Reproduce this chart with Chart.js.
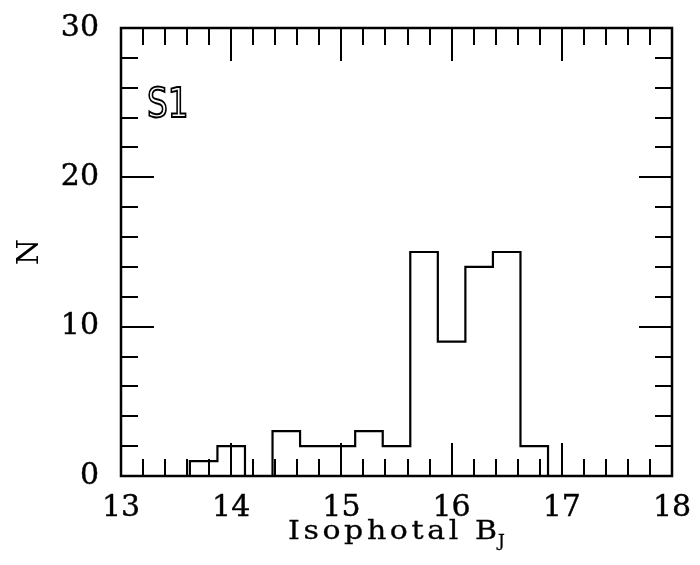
<!DOCTYPE html>
<html>
<head>
<meta charset="utf-8">
<script src="https://cdn.jsdelivr.net/npm/chart.js@4/dist/chart.umd.min.js"></script>
<style>
  html, body { margin: 0; padding: 0; background: #fff; }
  #wrap { width: 700px; height: 565px; position: relative; }
</style>
</head>
<body>
<div id="wrap"><canvas id="c" width="700" height="565"></canvas></div>
<script>
// Histogram bin left edges (last value = right edge of last bin), in Isophotal B_J
const binEdges = [13.625, 13.875, 14.125, 14.375, 14.625, 14.875, 15.125, 15.375, 15.625, 15.875, 16.125, 16.375, 16.625, 16.875];
// Counts per bin
const counts = [1, 2, 0, 3, 2, 2, 3, 2, 15, 9, 14, 15, 2];
// Axis ranges / tick labels
const xTickLabels = [13, 14, 15, 16, 17, 18];
const yTickLabels = [0, 10, 20, 30];
const panelLabel = "S1";
const xTitleMain = "Isophotal B";
const xTitleSub = "J";
const yTitle = "N";

const points = [{x: binEdges[0], y: 0}];
for (let i = 0; i < counts.length; i++) points.push({x: binEdges[i], y: counts[i]});
points.push({x: binEdges[binEdges.length - 1], y: 0});

const SERIF = "'DejaVu Serif', 'Liberation Serif', serif";

const framePlugin = {
  id: 'frame',
  afterDraw(chart) {
    const {ctx, chartArea: a, scales: {x, y}} = chart;
    ctx.save();
    ctx.strokeStyle = '#000';
    ctx.lineWidth = 2.5;
    ctx.strokeRect(a.left, a.top, a.right - a.left, a.bottom - a.top);
    ctx.lineWidth = 2;
    ctx.beginPath();
    // x ticks (inward, top and bottom)
    for (let v = x.min; v <= x.max + 1e-9; v += 0.2) {
      const px = Math.round(x.getPixelForValue(v));
      const major = Math.abs(v - Math.round(v)) < 1e-6;
      const len = major ? 33 : 17;
      ctx.moveTo(px, a.bottom); ctx.lineTo(px, a.bottom - len);
      ctx.moveTo(px, a.top); ctx.lineTo(px, a.top + len);
    }
    // y ticks (inward, left and right)
    for (let v = y.min; v <= y.max + 1e-9; v += 2) {
      const py = Math.round(y.getPixelForValue(v));
      const major = Math.abs(v / 10 - Math.round(v / 10)) < 1e-6;
      const len = major ? 33 : 17;
      ctx.moveTo(a.left, py); ctx.lineTo(a.left + len, py);
      ctx.moveTo(a.right, py); ctx.lineTo(a.right - len, py);
    }
    ctx.stroke();

    // panel label (outlined)
    ctx.save();
    ctx.translate(a.left + 26, a.top + 89);
    ctx.scale(0.8, 1);
    ctx.font = "41px 'DejaVu Sans', sans-serif";
    ctx.textBaseline = 'alphabetic';
    ctx.textAlign = 'left';
    ctx.lineWidth = 2;
    ctx.strokeText(panelLabel, 0, 0);
    ctx.restore();

    // x title with subscript
    ctx.fillStyle = '#000';
    ctx.strokeStyle = '#000';
    ctx.textAlign = 'left';
    ctx.textBaseline = 'alphabetic';
    ctx.save();
    ctx.translate(288, 539);
    ctx.scale(1, 0.85);
    ctx.font = "30px " + SERIF;
    ctx.lineWidth = 0.35;
    const chars = Array.from(xTitleMain);
    const widths = chars.map(ch => ctx.measureText(ch).width);
    const w0 = widths.reduce((s, w) => s + w, 0);
    const targetW = 209;
    const ls = Math.max(0, (targetW - w0) / (chars.length - 1));
    let cx = 0;
    chars.forEach((ch, i) => { ctx.fillText(ch, cx, 0); ctx.strokeText(ch, cx, 0); cx += widths[i] + ls; });
    ctx.restore();
    ctx.font = "17px " + SERIF;
    ctx.lineWidth = 0.3;
    ctx.fillText(xTitleSub, 288 + targetW + 1, 546);
    ctx.strokeText(xTitleSub, 288 + targetW + 1, 546);
    ctx.restore();
  }
};

new Chart(document.getElementById('c'), {
  type: 'line',
  data: {
    datasets: [{
      data: points,
      stepped: 'before',
      borderColor: '#000',
      borderWidth: 2.2,
      pointRadius: 0,
      fill: false,
      clip: false
    }]
  },
  options: {
    responsive: false,
    animation: false,
    devicePixelRatio: 1,
    layout: { padding: { left: 12, right: 28, top: 28, bottom: 0 } },
    plugins: { legend: { display: false }, tooltip: { enabled: false } },
    scales: {
      x: {
        type: 'linear',
        min: xTickLabels[0],
        max: xTickLabels[xTickLabels.length - 1],
        afterBuildTicks(s) { s.ticks = xTickLabels.map(v => ({value: v})); },
        grid: { display: false, drawTicks: false },
        border: { display: false },
        ticks: { color: '#000', textStrokeColor: '#000', textStrokeWidth: 0.4, padding: 14, font: { family: SERIF, size: 30 } },
        afterFit(s) { s.height = 89; s.paddingLeft = 0; s.paddingRight = 0; }
      },
      y: {
        type: 'linear',
        min: yTickLabels[0],
        max: yTickLabels[yTickLabels.length - 1],
        afterBuildTicks(s) { s.ticks = yTickLabels.map(v => ({value: v})); },
        grid: { display: false, drawTicks: false },
        border: { display: false },
        ticks: { color: '#000', textStrokeColor: '#000', textStrokeWidth: 0.4, padding: 22, font: { family: SERIF, size: 30 } },
        title: { display: true, text: yTitle, color: '#000', padding: 0, font: { family: SERIF, size: 30 } },
        afterFit(s) { s.width = 109; s.paddingTop = 0; s.paddingBottom = 0; }
      }
    }
  },
  plugins: [framePlugin]
});
</script>
</body>
</html>
